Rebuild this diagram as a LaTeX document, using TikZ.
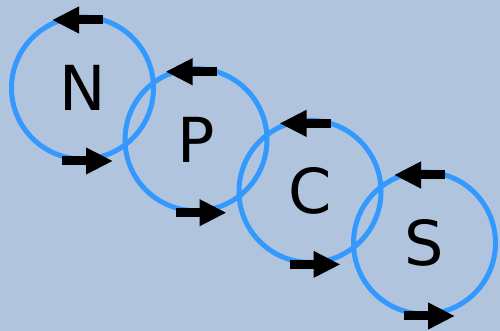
\documentclass[tikz,border=0pt]{standalone}
\usepackage{fontspec}
\setmainfont{DejaVu Sans}
\usetikzlibrary{arrows.meta}
\definecolor{bg}{RGB}{176,196,222}
\definecolor{ring}{RGB}{51,153,255}
\begin{document}
\begin{tikzpicture}[x=1pt,y=1pt,
  ringnode/.style={circle, draw=ring, line width=5pt, minimum size=142pt, inner sep=0pt, font=\fontsize{62}{62}\selectfont},
  arr/.style={line width=9pt, -{Triangle[length=27pt,width=25pt]}, black}]
\fill[bg] (0,0) rectangle (500,331);
\useasboundingbox (0,0) rectangle (500,331);
\node[ringnode] (n) at (82.5,243) {N};
\node[ringnode] (p) at (196,191.3) {P};
\node[ringnode] (c) at (310,139.6) {C};
\node[ringnode] (s) at (424.5,88) {S};
\foreach \k in {n,p,c,s}{
  \draw[arr] ([shift={(20.5,68)}]\k.center) -- ([shift={(-30.5,68)}]\k.center);
  \draw[arr] ([shift={(-20.5,-73)}]\k.center) -- ([shift={(30.5,-73)}]\k.center);
}
\end{tikzpicture}
\end{document}
